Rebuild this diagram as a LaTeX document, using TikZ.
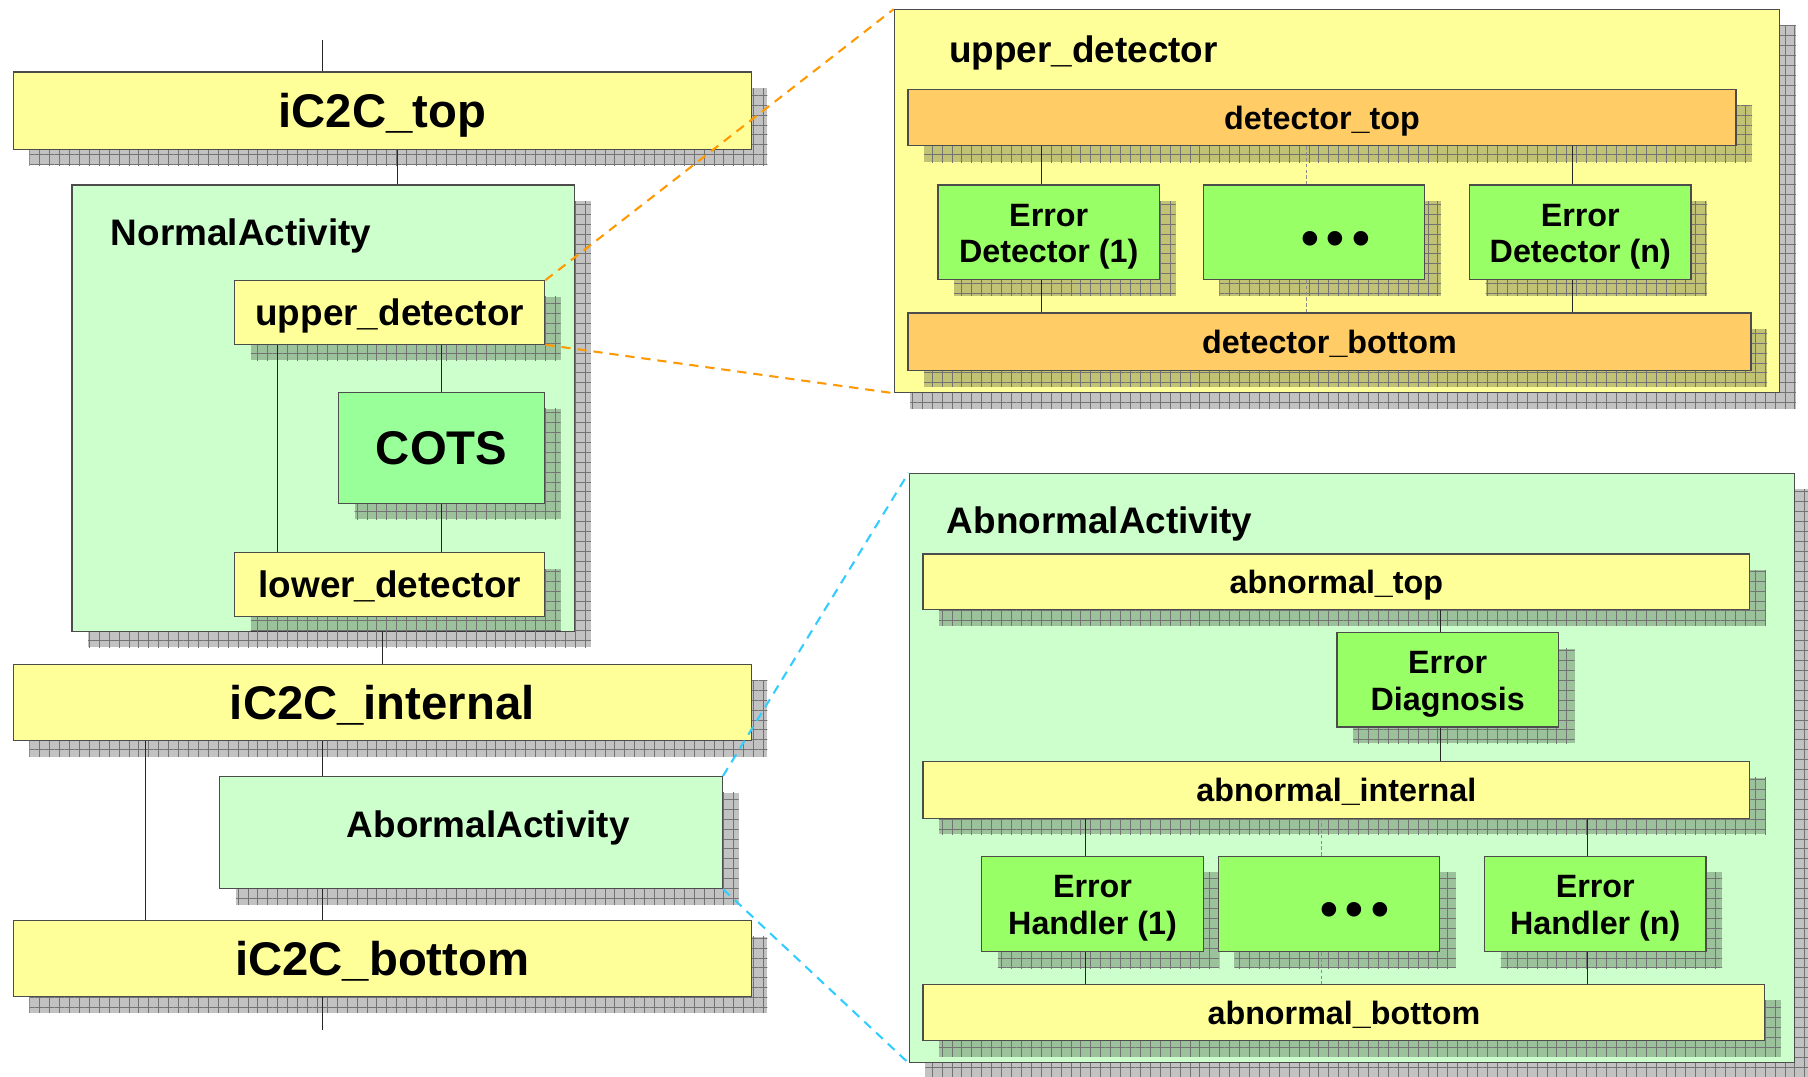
\documentclass[tikz,border=0pt]{standalone}
\usepackage{fontspec}
\setmainfont{Liberation Sans}
\usetikzlibrary{shadows}
\usetikzlibrary{patterns.meta}

\definecolor{barYellow}{RGB}{255,255,153}
\definecolor{actGreen}{RGB}{204,255,204}
\definecolor{cotsGreen}{RGB}{153,255,153}
\definecolor{errGreen}{RGB}{153,255,102}
\definecolor{detOrange}{RGB}{255,204,102}
\definecolor{zoomOrange}{RGB}{255,153,0}
\definecolor{zoomCyan}{RGB}{51,204,255}

\newcommand{\bigtxt}{\fontsize{41}{41}\selectfont\bfseries}
\newcommand{\midtxt}{\fontsize{32}{32}\selectfont\bfseries}
\newcommand{\smalltxt}{\fontsize{28}{31.8}\selectfont\bfseries}
\newcommand{\dotstxt}{\fontsize{44}{44}\selectfont\bfseries}
% two-line label, first line raised a little
\newcommand{\twolines}[2]{\rule{0pt}{27pt}#1\\#2}

\tikzset{
  gridshadow/.style={
    general shadow={shadow xshift=14pt, shadow yshift=-14pt, fill=black, fill opacity=.24},
    general shadow={shadow xshift=14pt, shadow yshift=-14pt,
      pattern={Hatch[angle=0, distance=8.6pt, line width=.7pt]}, pattern color=black!55}},
  blk/.style={draw=black!70, line width=1pt, inner sep=0pt, anchor=north west,
    align=center, gridshadow},
  big/.style={font=\bigtxt, text height=37.7pt, text depth=8.2pt},
  mid/.style={font=\midtxt, text height=29.4pt, text depth=6.4pt},
  small/.style={font=\smalltxt, text height=25.8pt, text depth=5.6pt},
  bar/.style={blk, fill=barYellow, small},
  act/.style={blk, fill=actGreen},
  det/.style={blk, fill=detOrange, small},
  err/.style={blk, fill=errGreen, font=\smalltxt, minimum width=192pt, minimum height=82pt},
  dotsbox/.style={err, font=\dotstxt, text height=41.6pt, text depth=2pt},
  title/.style={anchor=base west, inner sep=0pt, font=\midtxt},
  link/.style={draw=black!85, line width=.8pt},
  dotlink/.style={draw=black!45, line width=.5pt, densely dashed},
  zoom/.style={line width=1.8pt, dash pattern=on 8pt off 6pt}
}

\begin{document}
\begin{tikzpicture}[x=1pt,y=-1pt]
  \fill[white] (0,0) rectangle (1568,934);

  % component iC2C
  \node[bar, big, minimum width=640pt, minimum height=67pt] (topBar) at (11,62) {iC2C\_top};
  \node[act, minimum width=436pt, minimum height=387pt] (normal) at (62,160) {};
  \node[title] (normalTitle) at (96,212.5) {NormalActivity};
  \node[bar, mid, minimum width=269pt, minimum height=55pt] (upperDet) at (203,243) {upper\_detector};
  \node[blk, big, fill=cotsGreen, minimum width=179pt, minimum height=96pt] (cots) at (293,340) {COTS};
  \node[bar, mid, minimum width=269pt, minimum height=55pt] (lowerDet) at (203,479) {lower\_detector};
  \node[bar, big, minimum width=640pt, minimum height=66pt] (internalBar) at (11,576) {iC2C\_internal};
  \node[act, minimum width=436pt, minimum height=97pt] (abormal) at (190,673) {};
  \node[title, anchor=base] (abormalTitle) at (423.5,726.5) {AbormalActivity};
  \node[bar, big, minimum width=640pt, minimum height=66pt] (bottomBar) at (11,798) {iC2C\_bottom};

  % zoom on upper_detector
  \node[bar, minimum width=768pt, minimum height=332pt] (udBig) at (775,8) {};
  \node[title] (udTitle) at (823,54.5) {upper\_detector};
  \node[det, minimum width=718pt, minimum height=49pt] (detTop) at (787,77) {detector\_top};
  \node[err] (ed1) at (813,160) {\twolines{Error}{Detector (1)}};
  \node[dotsbox] (edDots) at (1043,160) {\hspace*{38pt}•\hspace{7pt}•\hspace{7pt}•};
  \node[err] (edN) at (1274,160) {\twolines{Error}{Detector (n)}};
  \node[det, minimum width=731pt, minimum height=50pt] (detBottom) at (787,271) {detector\_bottom};

  % zoom on AbnormalActivity
  \node[act, minimum width=768pt, minimum height=511pt] (abBig) at (788,410) {};
  \node[title] (abTitle) at (821,462.5) {AbnormalActivity};
  \node[bar, minimum width=717pt, minimum height=48pt] (abTop) at (800,480) {abnormal\_top};
  \node[err] (diag) at (1159,548) {\twolines{Error}{Diagnosis}};
  \node[bar, minimum width=717pt, minimum height=49pt] (abInternal) at (800,660) {abnormal\_internal};
  \node[err, minimum height=83pt] (eh1) at (851,742) {\twolines{Error}{Handler (1)}};
  \node[dotsbox, minimum height=83pt] (ehDots) at (1056,742) {\hspace*{45pt}•\hspace{7pt}•\hspace{7pt}•};
  \node[err, minimum height=83pt] (ehN) at (1287,742) {\twolines{Error}{Handler (n)}};
  \node[bar, minimum width=730pt, minimum height=49pt] (abBottom) at (800,853) {abnormal\_bottom};

  % connectors
  \coordinate (topIn) at (280,35);
  \coordinate (bottomOut) at (280,893);
  \draw[link] (topIn) -- (topIn |- topBar.north);
  \draw[link] (bottomBar.south -| bottomOut) -- (bottomOut);
  \draw[link] ([xshift=64]normal.north) -- ([xshift=64]normal.north |- topBar.south);
  \draw[link] ([xshift=51]normal.south) -- ([xshift=51]normal.south |- internalBar.north);
  \draw[link] ([xshift=38]upperDet.south west) -- ([xshift=38]lowerDet.north west);
  \draw[link] (cots.north) -- (cots.north |- upperDet.south);
  \draw[link] (cots.south) -- (cots.south |- lowerDet.north);
  \draw[link] ([xshift=90]abormal.north west) -- ([xshift=90]abormal.north west |- internalBar.south);
  \draw[link] ([xshift=90]abormal.south west) -- ([xshift=90]abormal.south west |- bottomBar.north);
  \draw[link] ([xshift=115]internalBar.south west) -- ([xshift=115]bottomBar.north west);

  \foreach \b in {ed1,edN} {
    \draw[link] ([xshift=90]\b.north west) -- ([xshift=90]\b.north west |- detTop.south);
    \draw[link] ([xshift=90]\b.south west) -- ([xshift=90]\b.south west |- detBottom.north);
  }
  \draw[dotlink] ([xshift=90]edDots.north west) -- ([xshift=90]edDots.north west |- detTop.south);
  \draw[dotlink] ([xshift=90]edDots.south west) -- ([xshift=90]edDots.south west |- detBottom.north);

  \draw[link] ([xshift=90]diag.north west) -- ([xshift=90]diag.north west |- abTop.south);
  \draw[link] ([xshift=90]diag.south west) -- ([xshift=90]diag.south west |- abInternal.north);
  \foreach \b in {eh1,ehN} {
    \draw[link] ([xshift=90]\b.north west) -- ([xshift=90]\b.north west |- abInternal.south);
    \draw[link] ([xshift=90]\b.south west) -- ([xshift=90]\b.south west |- abBottom.north);
  }
  \draw[dotlink] ([xshift=90]ehDots.north west) -- ([xshift=90]ehDots.north west |- abInternal.south);
  \draw[dotlink] ([xshift=90]ehDots.south west) -- ([xshift=90]ehDots.south west |- abBottom.north);

  % zoom lines
  \draw[zoom, zoomOrange] (upperDet.north east) -- (udBig.north west);
  \draw[zoom, zoomOrange] (upperDet.south east) -- (udBig.south west);
  \draw[zoom, zoomCyan] (abormal.north east) -- (abBig.north west);
  \draw[zoom, zoomCyan] (abormal.south east) -- (abBig.south west);
\end{tikzpicture}
\end{document}
